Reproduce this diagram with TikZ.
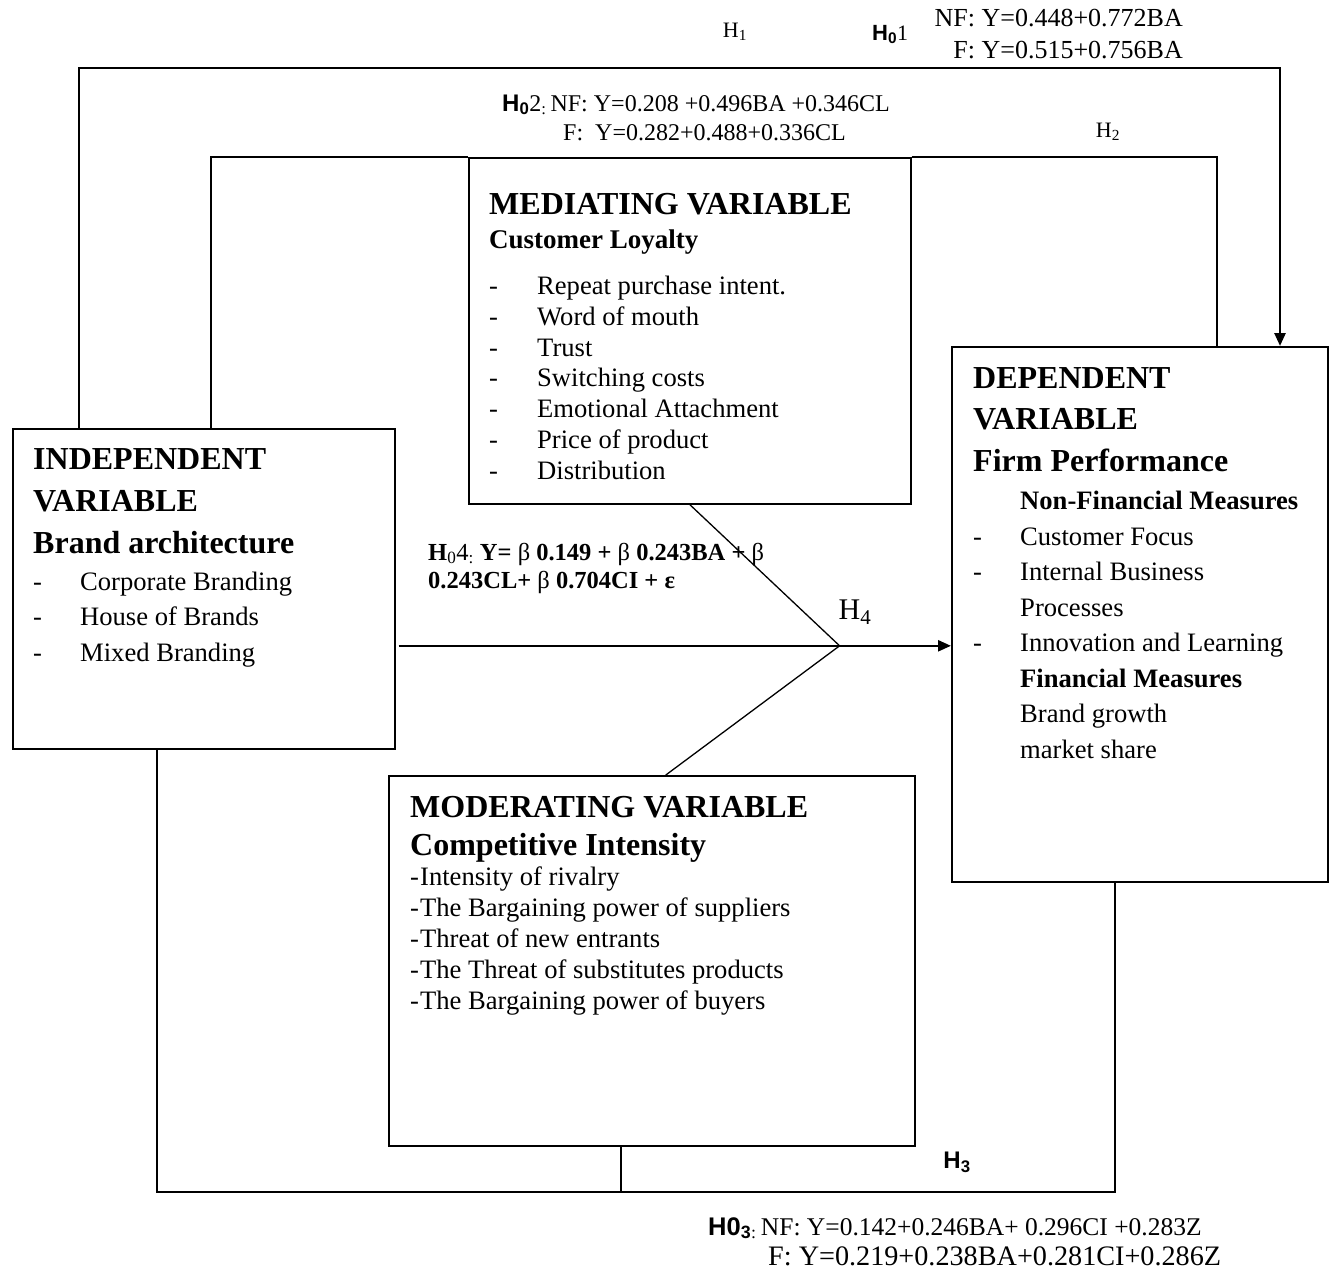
\documentclass[tikz,border=0pt]{standalone}
\usepackage{fontspec}
\setmainfont{Liberation Serif}
\setsansfont{Liberation Sans}
\usetikzlibrary{arrows.meta,positioning}

\newcommand{\dashitem}[2][47pt]{\makebox[#1][l]{-}#2}
\newcommand{\fsize}[2]{\fontsize{#1}{#2}\selectfont}

\begin{document}
\begin{tikzpicture}[x=1pt,y=-1pt]

    \tikzset{
        varbox/.style={
            draw,
            line width=1.6pt,
            rectangle,
            inner sep=0pt,
            anchor=north west
        },
        heading/.style={
            anchor=base west,
            inner sep=0pt,
            align=left,
            font=\bfseries\fsize{32}{42}
        },
        items/.style={
            anchor=base west,
            inner sep=0pt,
            align=left,
            font=\fsize{26.6}{35.5}
        },
        eqn/.style={anchor=base west, inner sep=0pt, align=left, font=\fsize{24}{29}},
        hyp/.style={inner sep=0pt, font=\fsize{22}{24}},
        link/.style={line width=2pt},
        arrow/.style={line width=2.4pt, -{Triangle[length=13pt,width=11pt]}}
    }

    \useasboundingbox (0,0) rectangle (1333,1270);

    % boxes
    \node[varbox, minimum width=382pt, minimum height=320pt] (indep) at (12,428) {};
    \node[varbox, minimum width=442pt, minimum height=346pt] (med) at (468,157) {};
    \node[varbox, minimum width=376pt, minimum height=535pt] (dep) at (951,346) {};
    \node[varbox, minimum width=526pt, minimum height=370pt] (mod) at (388,775) {};

    % independent variable (base = last line)
    \node[heading] (indepT) at ([shift={(21,125)}]indep.north west)
        {INDEPENDENT\\VARIABLE\\Brand architecture};
    \node[items] (indepL) at ([shift={(21,233)}]indep.north west)
        {\dashitem{Corporate Branding}\\\dashitem{House of Brands}\\\dashitem{Mixed Branding}};

    % mediating variable
    \node[heading] (medT) at ([shift={(21,57)}]med.north west) {MEDIATING VARIABLE};
    \node[heading, font=\bfseries\fsize{27}{30}] (medS) at ([shift={(21,91)}]med.north west)
        {Customer Loyalty};
    \node[items, font=\fsize{26.6}{30.7}] (medL) at ([shift={(21,322)}]med.north west)
        {\dashitem[48pt]{Repeat purchase intent.}\\\dashitem[48pt]{Word of mouth}\\
         \dashitem[48pt]{Trust}\\\dashitem[48pt]{Switching costs}\\
         \dashitem[48pt]{Emotional Attachment}\\\dashitem[48pt]{Price of product}\\
         \dashitem[48pt]{Distribution}};

    % dependent variable
    \node[heading, font=\bfseries\fsize{32}{41.5}] (depT) at ([shift={(22,125)}]dep.north west)
        {DEPENDENT\\VARIABLE\\Firm Performance};
    \node[items] (depL) at ([shift={(22,412)}]dep.north west)
        {\hspace*{47pt}\textbf{Non-Financial Measures}\\
         \dashitem{Customer Focus}\\\dashitem{Internal Business}\\
         \hspace*{47pt}Processes\\\dashitem{Innovation and Learning}\\
         \hspace*{47pt}\textbf{Financial Measures}\\
         \hspace*{47pt}Brand growth\\\hspace*{47pt}market share};

    % moderating variable
    \node[heading, font=\bfseries\fsize{32}{38}] (modT) at ([shift={(22,80)}]mod.north west)
        {MODERATING VARIABLE\\Competitive Intensity};
    \node[items, font=\fsize{26.6}{30.8}] (modL) at ([shift={(22,234)}]mod.north west)
        {\dashitem[10pt]{Intensity of rivalry}\\\dashitem[10pt]{The Bargaining power of suppliers}\\
         \dashitem[10pt]{Threat of new entrants}\\\dashitem[10pt]{The Threat of substitutes products}\\
         \dashitem[10pt]{The Bargaining power of buyers}};

    % H1
    \coordinate (h1s) at ([shift={(67,0)}]indep.north west);
    \coordinate (h1e) at ([shift={(329,0)}]dep.north west);
    \draw[arrow, line width=2.6pt] (h1s) -- ++(0,-360) -| (h1e);

    % H2
    \coordinate (h2s) at ([shift={(199,0)}]indep.north west);
    \coordinate (h2e) at ([shift={(266,0)}]dep.north west);
    \draw[link] (h2s) |- (med.north west);
    \draw[link] (med.north east) -| (h2e);

    % H3
    \coordinate (h3s) at ([shift={(145,0)}]indep.south west);
    \coordinate (h3e) at ([shift={(164,0)}]dep.south west);
    \coordinate (h3m) at ([shift={(233,0)}]mod.south west);
    \draw[link] (h3s) -- ++(0,442) -| (h3e);
    \draw[link] (h3m) -- ++(0,45);

    % H4
    \coordinate (h4s) at ([shift={(3,57)}]indep.east);
    \coordinate (h4j) at ([shift={(444,57)}]indep.east);
    \draw[arrow] (h4s) -- (h4s -| dep.west);
    \draw[line width=1.3pt] (med.south) -- (h4j) -- ([shift={(14,0)}]mod.north);

    % labels
    \node[hyp] (lblH1) at (735,32) {H\textsubscript{1}};
    \node[hyp, anchor=base west] (lblH01) at (872,40) {{\sffamily\bfseries H\textsubscript{0}}1};
    \node[eqn, anchor=base east, align=right, font=\fsize{26}{32}] (eqH1) at (1183,58)
        {NF: Y=0.448+0.772BA\\F: Y=0.515+0.756BA};
    \node[eqn] (eqH2a) at (502,111)
        {{\sffamily\bfseries H\textsubscript{0}}2\textsubscript{:}\,NF: Y=0.208 +0.496BA +0.346CL};
    \node[eqn] (eqH2b) at (563,140) {F:\ \ Y=0.282+0.488+0.336CL};
    \node[hyp] (lblH2) at (1108,132) {H\textsubscript{2}};
    \node[eqn, font=\bfseries\fsize{24.5}{28}] (eqH4) at (428,588)
        {H\textsubscript{\mdseries 0}{\mdseries 4\textsubscript{:}} Y= {\mdseries β} 0.149 + {\mdseries β} 0.243BA + {\mdseries β}\\
         0.243CL+ {\mdseries β} 0.704CI + ε};
    \node[hyp, font=\fsize{30}{32}] (lblH4) at (855,612) {H\textsubscript{4}};
    \node[hyp, font=\sffamily\bfseries\fsize{24}{26}] (lblH3) at (957,1162) {H\textsubscript{3}};
    \node[eqn, font=\fsize{25.5}{30}] (eqH3a) at (708,1235)
        {{\sffamily\bfseries H0\textsubscript{3}}\textsubscript{:}\,NF: Y=0.142+0.246BA+ 0.296CI +0.283Z};
    \node[eqn, font=\fsize{28.2}{30}] (eqH3b) at (768,1265) {F: Y=0.219+0.238BA+0.281CI+0.286Z};

\end{tikzpicture}
\end{document}
